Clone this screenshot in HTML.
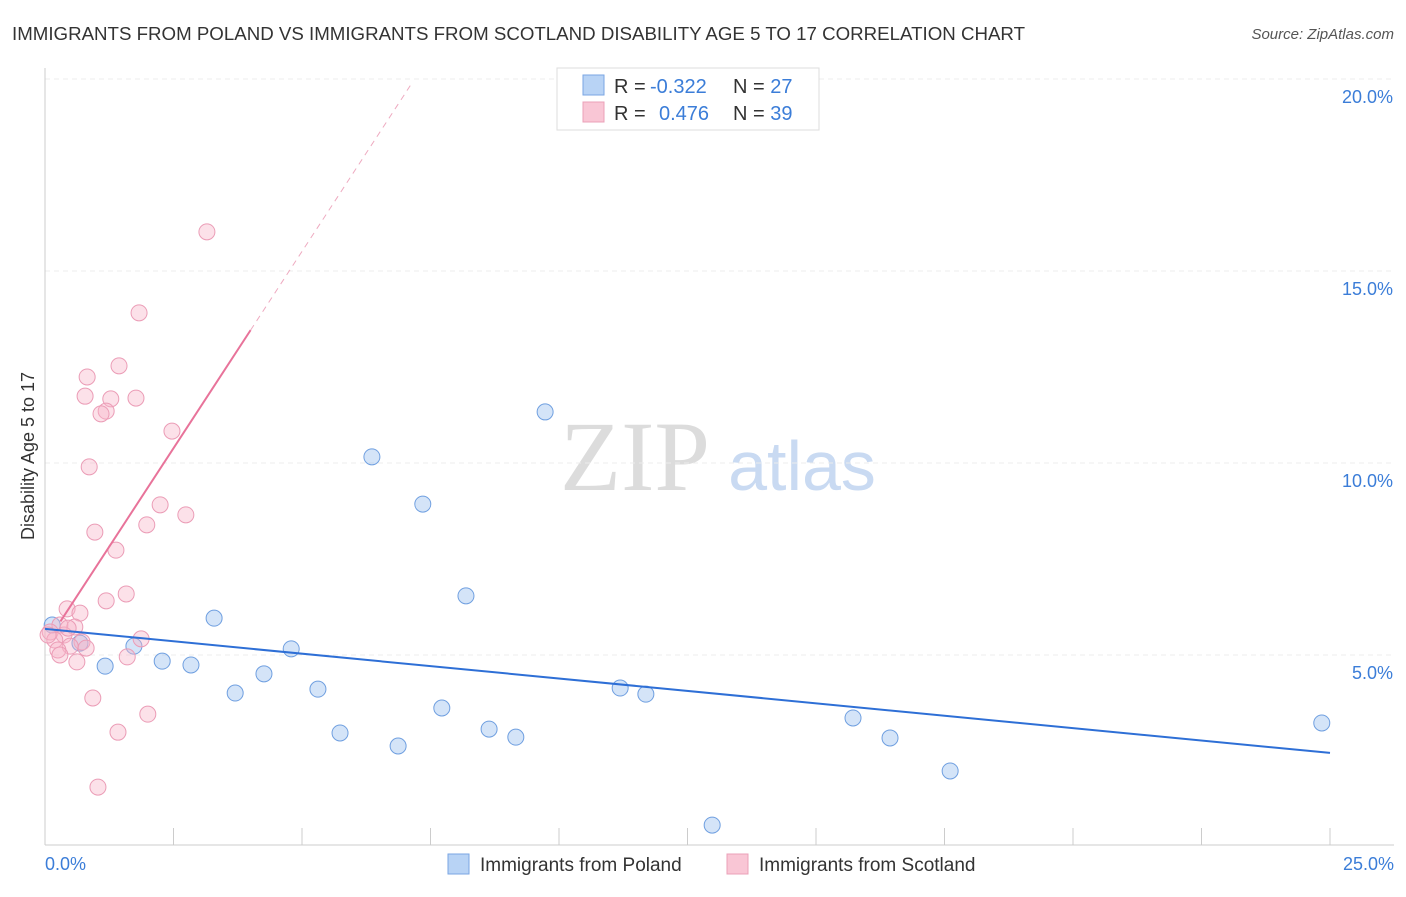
<!DOCTYPE html>
<html><head><meta charset="utf-8"><style>
body{margin:0;background:#fff;font-family:"Liberation Sans",sans-serif}
</style></head><body>
<svg id="chart" width="1406" height="892" xmlns="http://www.w3.org/2000/svg" font-family="Liberation Sans, sans-serif">
<text x="12" y="40" font-size="18" fill="#333" textLength="1013" lengthAdjust="spacingAndGlyphs">IMMIGRANTS FROM POLAND VS IMMIGRANTS FROM SCOTLAND DISABILITY AGE 5 TO 17 CORRELATION CHART</text>
<text x="1394" y="39" font-size="15" fill="#555" font-style="italic" text-anchor="end">Source: ZipAtlas.com</text>
<g><text x="635" y="490" font-size="100" fill="#dcdcdc" style="font-family:'Liberation Serif',serif" text-anchor="middle">ZIP</text><text x="802" y="490" font-size="70" fill="#c9daf2" text-anchor="middle">atlas</text></g>
<g id="grid"></g><g id="axes"></g><g id="marks"></g>
<text transform="translate(34,456) rotate(-90)" font-size="18" fill="#333" text-anchor="middle">Disability Age 5 to 17</text>
<g>
<rect x="557" y="68" width="262" height="62" fill="#fff" stroke="#ddd"/>
<rect x="583" y="75" width="21" height="20" fill="#b8d3f5" stroke="#7aa6e3"/>
<rect x="583" y="102" width="21" height="20" fill="#f9c6d5" stroke="#eba0b8"/>
<text x="614" y="93" font-size="20" fill="#333">R = <tspan fill="#3b7dd8" x="650">-0.322</tspan></text>
<text x="733" y="93" font-size="20" fill="#333">N = <tspan fill="#3b7dd8">27</tspan></text>
<text x="614" y="120" font-size="20" fill="#333">R = <tspan fill="#3b7dd8" x="659">0.476</tspan></text>
<text x="733" y="120" font-size="20" fill="#333">N = <tspan fill="#3b7dd8">39</tspan></text>
</g>
<g>
<rect x="448" y="854" width="21" height="20" fill="#b8d3f5" stroke="#7aa6e3"/>
<text x="480" y="871" font-size="19" fill="#333">Immigrants from Poland</text>
<rect x="727" y="854" width="21" height="20" fill="#f9c6d5" stroke="#eba0b8"/>
<text x="759" y="871" font-size="19" fill="#333">Immigrants from Scotland</text>
</g>
</svg>
<script>
const polandX=[0.14,0.68,1.17,1.73,2.28,2.84,3.29,3.70,4.26,4.79,5.31,5.74,6.36,6.87,7.35,7.72,8.19,8.64,9.16,9.73,11.19,11.69,12.98,15.72,16.44,17.61,24.84];
const polandY=[5.78,5.31,4.71,5.23,4.84,4.74,5.96,4.01,4.51,5.16,4.11,2.97,10.16,2.63,8.93,3.62,6.54,3.07,2.86,11.33,4.14,3.98,0.57,3.36,2.84,1.98,3.23];
const scotX=[3.15,1.83,1.44,0.82,0.78,1.28,1.77,1.19,1.09,2.47,0.86,2.24,2.74,1.98,0.97,1.38,1.58,1.19,0.43,0.68,0.29,0.58,0.10,0.37,0.19,1.87,0.72,0.49,0.25,0.29,1.60,0.62,0.93,2.00,1.42,1.03,0.06,0.45,0.80];
const scotY=[16.02,13.91,12.53,12.24,11.74,11.67,11.69,11.35,11.28,10.83,9.90,8.91,8.65,8.39,8.20,7.73,6.59,6.41,6.20,6.09,5.78,5.73,5.60,5.52,5.39,5.42,5.34,5.23,5.13,5.00,4.95,4.82,3.88,3.46,2.99,1.56,5.52,5.70,5.18];
const yTicks=[5,10,15,20];
const yTickLabels=["5.0%","10.0%","15.0%","20.0%"];
const xTicks=[0,2.5,5,7.5,10,12.5,15,17.5,20,22.5,25];
const xEndLabels=["0.0%","25.0%"];
const polandTrend=[5.68,2.45];
const scotTrend=[5.26,2.05];
const NS="http://www.w3.org/2000/svg";
const sx=v=>45+v*51.4, sy=v=>847-v*38.4;
function mk(tag,attrs,parent){const e=document.createElementNS(NS,tag);for(const k in attrs)e.setAttribute(k,attrs[k]);parent.appendChild(e);return e;}
const grid=document.getElementById('grid'),axes=document.getElementById('axes'),marks=document.getElementById('marks');
yTicks.forEach((t,i)=>{
 const l=mk('line',{x1:45,x2:1394,y1:sy(t),y2:sy(t),stroke:'#ececec','stroke-dasharray':'5,4'},grid);
 
 
 const tx=mk('text',{x:1393,y:sy(t)+24,'font-size':18,fill:'#3b7dd8','text-anchor':'end'},axes);
 tx.textContent=yTickLabels[i];
 
 
});
const ax=mk('line',{x1:45,x2:1394,y1:845,y2:845,stroke:'#ccc'},axes);


const ay=mk('line',{x1:45,x2:45,y1:68,y2:845,stroke:'#ccc'},axes);


xTicks.forEach(t=>{
 const l=mk('line',{x1:sx(t),x2:sx(t),y1:828,y2:845,stroke:'#ccc'},axes);
 
 
});
[[0,'start',xEndLabels[0]],[25,'end',xEndLabels[1]]].forEach(([v,a,s])=>{
 const tx=mk('text',{x:v===0?45:1394,y:870,'font-size':18,fill:'#3b7dd8','text-anchor':a},axes);
 tx.textContent=s;
 
 
});
polandX.forEach((x,i)=>{
 const c=mk('circle',{cx:sx(x),cy:sy(polandY[i]),r:8,fill:'rgba(160,196,240,0.45)',stroke:'#6f9fe0','stroke-width':1},marks);
 
 
});
scotX.forEach((x,i)=>{
 const c=mk('circle',{cx:sx(x),cy:sy(scotY[i]),r:8,fill:'rgba(247,180,200,0.4)',stroke:'#eb9cb6','stroke-width':1},marks);
 
 
});
const pl=mk('line',{x1:sx(0),y1:sy(polandTrend[0]),x2:sx(25),y2:sy(polandTrend[1]),stroke:'#2e6fd6','stroke-width':2},marks);


const sf=v=>scotTrend[0]+scotTrend[1]*v;
const sl=mk('line',{x1:sx(0.3),y1:sy(sf(0.3)),x2:sx(4),y2:sy(sf(4)),stroke:'#e8739a','stroke-width':2},marks);


const sd=mk('line',{x1:sx(4),y1:sy(sf(4)),x2:sx(7.14),y2:sy(sf(7.14)),stroke:'#eeaac0','stroke-width':1,'stroke-dasharray':'6,5'},marks);


</script>
</body></html>
